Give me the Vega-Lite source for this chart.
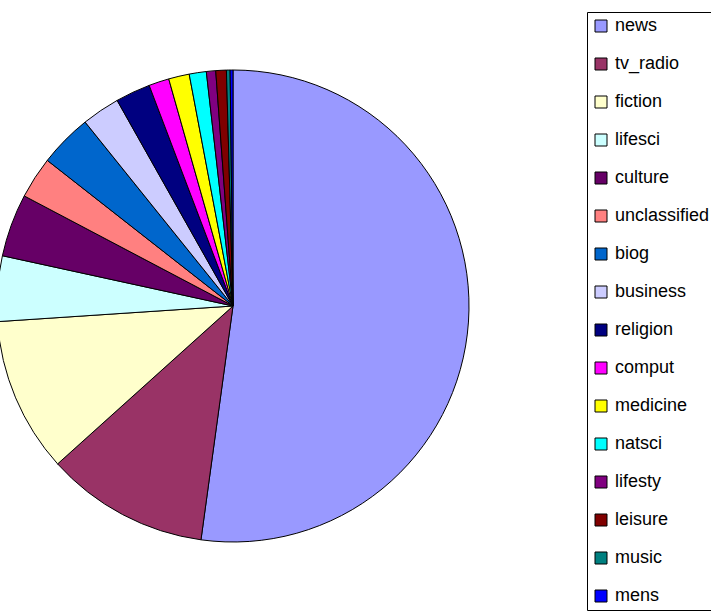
{
  "$schema": "https://vega.github.io/schema/vega-lite/v6.json",
  "autosize": {"type": "none"},
  "width": 466,
  "height": 612,
  "padding": {"left": 0, "top": 0, "right": 245, "bottom": 0},
  "background": "white",
  "config": {"view": {"stroke": null}},
  "data": {
    "values": [
      {"category": "news", "value": 187.8, "order": 1},
      {"category": "tv_radio", "value": 40.2, "order": 2},
      {"category": "fiction", "value": 38.2, "order": 3},
      {"category": "lifesci", "value": 16.1, "order": 4},
      {"category": "culture", "value": 15.5, "order": 5},
      {"category": "unclassified", "value": 10.3, "order": 6},
      {"category": "biog", "value": 13.1, "order": 7},
      {"category": "business", "value": 9.4, "order": 8},
      {"category": "religion", "value": 8.6, "order": 9},
      {"category": "comput", "value": 5.0, "order": 10},
      {"category": "medicine", "value": 5.1, "order": 11},
      {"category": "natsci", "value": 4.2, "order": 12},
      {"category": "lifesty", "value": 2.3, "order": 13},
      {"category": "leisure", "value": 2.6, "order": 14},
      {"category": "music", "value": 0.9, "order": 15},
      {"category": "mens", "value": 0.7, "order": 16}
    ]
  },
  "mark": {"type": "arc", "radius": 236, "stroke": "black", "strokeWidth": 1},
  "encoding": {
    "theta": {"field": "value", "type": "quantitative", "stack": true},
    "order": {"field": "order", "type": "quantitative"},
    "color": {
      "field": "category",
      "type": "nominal",
      "sort": ["news", "tv_radio", "fiction", "lifesci", "culture", "unclassified", "biog", "business", "religion", "comput", "medicine", "natsci", "lifesty", "leisure", "music", "mens"],
      "scale": {
        "domain": ["news", "tv_radio", "fiction", "lifesci", "culture", "unclassified", "biog", "business", "religion", "comput", "medicine", "natsci", "lifesty", "leisure", "music", "mens"],
        "range": ["#9999FF", "#993366", "#FFFFCC", "#CCFFFF", "#660066", "#FF8080", "#0066CC", "#CCCCFF", "#000080", "#FF00FF", "#FFFF00", "#00FFFF", "#800080", "#800000", "#008080", "#0000FF"]
      },
      "legend": {
        "title": null,
        "orient": "none",
        "legendX": 587,
        "legendY": 12,
        "padding": 5,
        "strokeColor": "black",
        "fillColor": "white",
        "symbolType": "square",
        "symbolSize": 144,
        "symbolStrokeColor": "black",
        "symbolStrokeWidth": 1,
        "symbolOpacity": 1,
        "labelFont": "Liberation Sans",
        "labelFontSize": 18,
        "labelColor": "black",
        "labelOffset": 5,
        "rowPadding": 20,
        "labelLimit": 300
      }
    }
  }
}
